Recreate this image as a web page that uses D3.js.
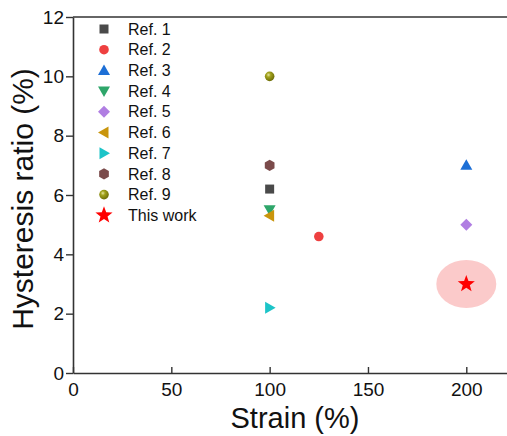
<!DOCTYPE html>
<html>
<head>
<meta charset="utf-8">
<script src="https://cdn.jsdelivr.net/npm/d3@7"></script>
<style>
  html, body { margin: 0; padding: 0; background: #fff; }
  svg { display: block; font-family: Arial, "Liberation Sans", sans-serif; }
</style>
</head>
<body>
<svg id="chart" width="507" height="436"></svg>
<script>
// Hysteresis ratio vs. strain, literature references and this work
const labels = ["Ref. 1", "Ref. 2", "Ref. 3", "Ref. 4", "Ref. 5", "Ref. 6", "Ref. 7", "Ref. 8", "Ref. 9", "This work"];
const strain = [100, 125, 200, 100, 200, 100, 100, 100, 100, 200];
const hysteresis = [6.2, 4.6, 7.0, 5.5, 5.0, 5.3, 2.2, 7.0, 10.0, 3.0];
const symbols = ["square", "circle", "triangleUp", "triangleDown", "diamond", "triangleLeft", "triangleRight", "hexagon", "sphere", "star"];
const colors = ["#4a4a4a", "#ee4040", "#1d6fd6", "#2ea66a", "#b07ee2", "#c9950c", "#1cc4c8", "#7b4b4b", "#8c8c12", "#ff0000"];
const xTicks = [0, 50, 100, 150, 200];
const yTicks = [0, 2, 4, 6, 8, 10, 12];

const svg = d3.select("#chart");
const margin = { left: 73, top: 17, right: 0, bottom: 63 };
const W = 507, H = 436;

const x = d3.scaleLinear().domain([0, 220.7]).range([margin.left, W - margin.right]);
const y = d3.scaleLinear().domain([0, 12]).range([H - margin.bottom, margin.top]);

const axisColor = "#333";

// gradient for the sphere marker
const defs = svg.append("defs");
const grad = defs.append("radialGradient").attr("id", "sphereGrad")
  .attr("cx", "0.38").attr("cy", "0.35").attr("r", "0.65");
grad.append("stop").attr("offset", "0").attr("stop-color", "#e6e6a0");
grad.append("stop").attr("offset", "0.35").attr("stop-color", "#a3a31e");
grad.append("stop").attr("offset", "1").attr("stop-color", "#6e6e08");

// highlight ellipse around this work
const hi = labels.indexOf("This work");
svg.append("ellipse")
  .attr("cx", x(strain[hi])).attr("cy", y(hysteresis[hi]))
  .attr("rx", 30).attr("ry", 24)
  .attr("fill", "#fbcaca");

// axes
const xAxis = d3.axisBottom(x).tickValues(xTicks).tickSizeInner(-6).tickSizeOuter(0).tickPadding(10);
const yAxis = d3.axisLeft(y).tickValues(yTicks).tickSizeInner(7).tickSizeOuter(0).tickPadding(2);

const gx = svg.append("g").attr("transform", `translate(0,${y(0)})`).call(xAxis);
const gy = svg.append("g").attr("transform", `translate(${x(0)},0)`).call(yAxis);
[gx, gy].forEach(g => {
  g.select(".domain").attr("stroke", axisColor).attr("stroke-width", 1.6);
  g.selectAll(".tick line").attr("stroke", axisColor).attr("stroke-width", 1.4);
  g.selectAll(".tick text").attr("fill", "#111").attr("font-size", 19)
    .attr("font-family", "Arial, 'Liberation Sans', sans-serif");
});
gx.selectAll(".tick text").attr("dy", "0.71em");

// top frame line
svg.append("line")
  .attr("x1", x(0)).attr("x2", W).attr("y1", y(12)).attr("y2", y(12))
  .attr("stroke", axisColor).attr("stroke-width", 1.6);

// axis titles
svg.append("text")
  .attr("x", 295).attr("y", 428)
  .attr("text-anchor", "middle").attr("font-size", 29).attr("fill", "#111")
  .text("Strain (%)");
svg.append("text")
  .attr("transform", "translate(33,199) rotate(-90)")
  .attr("text-anchor", "middle").attr("font-size", 30).attr("fill", "#111")
  .text("Hysteresis ratio (%)");

// marker drawing
function drawMarker(g, kind, color, cx, cy) {
  const s = 6;
  if (kind === "circle") {
    g.append("circle").attr("cx", cx).attr("cy", cy).attr("r", 4.8).attr("fill", color);
  } else if (kind === "sphere") {
    g.append("circle").attr("cx", cx).attr("cy", cy).attr("r", 4.8).attr("fill", "url(#sphereGrad)");
  } else if (kind === "square") {
    g.append("rect").attr("x", cx - 4.5).attr("y", cy - 4.5).attr("width", 9).attr("height", 9).attr("fill", color);
  } else {
    let pts;
    if (kind === "triangleUp") pts = [[0, -s], [s, s * 0.75], [-s, s * 0.75]];
    else if (kind === "triangleDown") pts = [[0, s], [s, -s * 0.75], [-s, -s * 0.75]];
    else if (kind === "triangleLeft") pts = [[-s, 0], [s * 0.75, -s], [s * 0.75, s]];
    else if (kind === "triangleRight") pts = [[s, 0], [-s * 0.75, -s], [-s * 0.75, s]];
    else if (kind === "diamond") pts = [[0, -6], [6, 0], [0, 6], [-6, 0]];
    else if (kind === "hexagon") pts = d3.range(6).map(i => {
      const a = Math.PI / 6 + i * Math.PI / 3;
      return [5.6 * Math.cos(a), 5.6 * Math.sin(a)];
    });
    else if (kind === "star") pts = d3.range(10).map(i => {
      const a = -Math.PI / 2 + i * Math.PI / 5;
      const r = i % 2 === 0 ? 9 : 3.7;
      return [r * Math.cos(a), r * Math.sin(a)];
    });
    g.append("polygon")
      .attr("points", pts.map(p => [cx + p[0], cy + p[1]].join(",")).join(" "))
      .attr("fill", color);
  }
}

// data points
const gp = svg.append("g");
labels.forEach((lab, i) => {
  drawMarker(gp, symbols[i], colors[i], x(strain[i]), y(hysteresis[i]));
});

// legend
const gl = svg.append("g");
labels.forEach((lab, i) => {
  const ly = 29 + i * 20.7;
  drawMarker(gl, symbols[i], colors[i], 104, ly);
  gl.append("text").attr("x", 128).attr("y", ly).attr("dy", "0.35em")
    .attr("font-size", 16).attr("fill", "#111").text(lab);
});
</script>
</body>
</html>
